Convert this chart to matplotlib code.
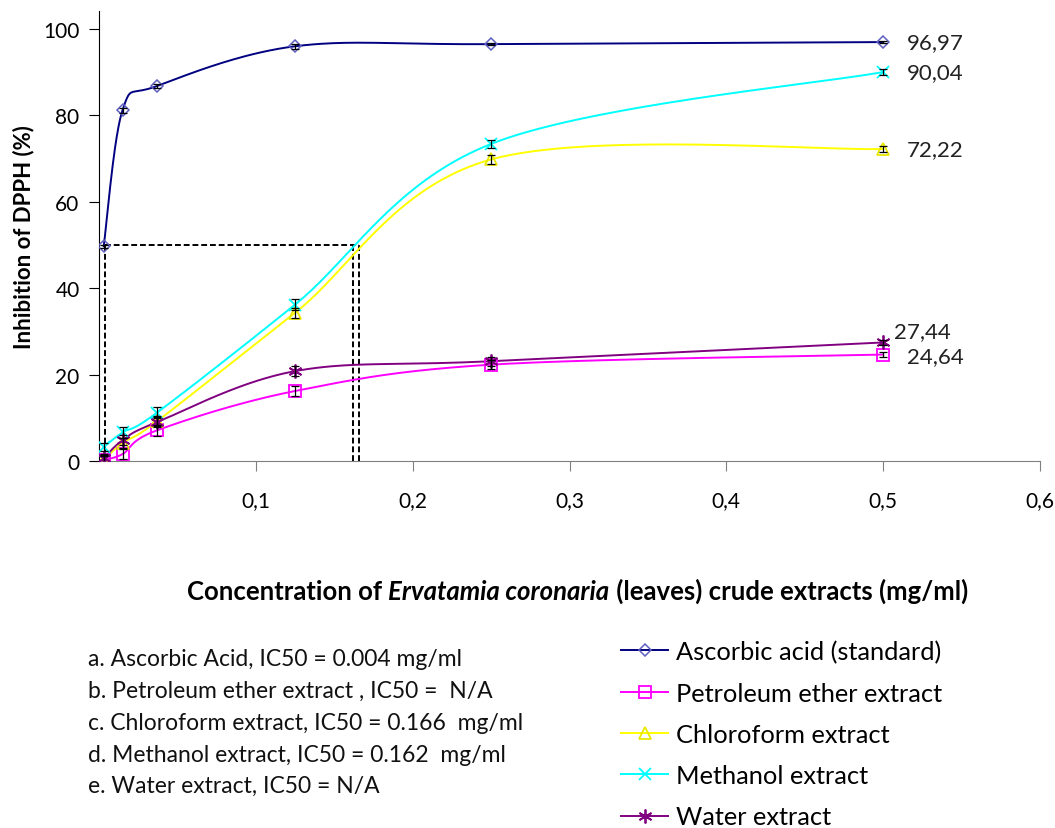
import numpy as np
import matplotlib
matplotlib.use('Agg')
import matplotlib.pyplot as plt
from matplotlib.lines import Line2D

plt.rcParams['font.family'] = ['Lato', 'DejaVu Sans']

# Concentrations (mg/ml)
conc = [0.003, 0.015, 0.037, 0.125, 0.25, 0.5]

# Inhibition of DPPH (%)
ascorbic = [49.7, 81.2, 86.8, 96.0, 96.5, 96.97]
petroleum = [0.3, 1.6, 7.1, 16.2, 22.3, 24.64]
chloroform = [0.2, 4.2, 9.2, 34.3, 69.8, 72.22]
methanol = [3.2, 6.6, 11.2, 36.2, 73.4, 90.04]
water = [0.6, 4.8, 9.0, 20.8, 23.1, 27.44]

err_asc = [0.4, 0.6, 0.5, 0.6, 0.3, 0.3]
err_ext = [1.0, 1.2, 1.2, 1.2, 1.0, 0.6]

ic50_asc = 0.004
ic50_meth = 0.162
ic50_chl = 0.166

end_labels = ['96,97', '90,04', '72,22', '27,44', '24,64']

names = ['Ascorbic acid (standard)', 'Petroleum ether extract',
         'Chloroform extract', 'Methanol extract', 'Water extract']

notes = ['a. Ascorbic Acid, IC50 = 0.004 mg/ml',
         'b. Petroleum ether extract , IC50 =  N/A',
         'c. Chloroform extract, IC50 = 0.166  mg/ml',
         'd. Methanol extract, IC50 = 0.162  mg/ml',
         'e. Water extract, IC50 = N/A']


def smooth(xs, ys, n=40):
    # Excel-like smoothed line (uniform Catmull-Rom as Bezier segments)
    p = np.column_stack([xs, ys]).astype(float)
    ext = np.vstack([p[0], p, p[-1]])
    out = []
    t = np.linspace(0, 1, n)[:, None]
    for i in range(len(p) - 1):
        p0, p1, p2, p3 = ext[i], ext[i + 1], ext[i + 2], ext[i + 3]
        b0 = p1
        b1 = p1 + (p2 - p0) / 6
        b2 = p2 - (p3 - p1) / 6
        b3 = p2
        seg = ((1 - t) ** 3) * b0 + 3 * ((1 - t) ** 2) * t * b1 + 3 * (1 - t) * t ** 2 * b2 + t ** 3 * b3
        out.append(seg)
    out = np.vstack(out)
    return out[:, 0], out[:, 1]


fig = plt.figure(figsize=(10.55, 8.29), dpi=100)
ax = fig.add_axes([99 / 1055, 1 - 462 / 829, (1040 - 99) / 1055, (462 - 12) / 829])

ymax = 100 * (462 - 12) / (462 - 30)
ax.set_xlim(0, 0.6)
ax.set_ylim(0, ymax)

# IC50 guide lines
dash = dict(color='black', linestyle=(0, (3, 1.5)), linewidth=1.4, zorder=2)
ax.plot([ic50_asc, ic50_asc], [0, 50], **dash)
ax.plot([ic50_asc, ic50_chl], [50, 50], **dash)
ax.plot([ic50_meth, ic50_meth], [0, 50], **dash)
ax.plot([ic50_chl, ic50_chl], [0, 50], **dash)

series = [
    (ascorbic, '#000080', dict(marker='D', ms=6, mfc='none', mec='#6060c0', mew=1.1), err_asc),
    (petroleum, '#ff00ff', dict(marker='s', ms=9, mfc='none', mec='#ff00ff', mew=1.3), err_ext),
    (chloroform, '#ffff00', dict(marker='^', ms=9, mfc='none', mec='#e8e800', mew=1.3), err_ext),
    (methanol, '#00ffff', dict(marker='x', ms=9, mec='#00ffff', mew=1.3), err_ext),
    (water, '#800080', dict(marker=(6, 2, 0), ms=10, mec='#800080', mew=1.3), err_ext),
]

handles = []
for (vals, col, mk, err), name in zip(series, names):
    sx, sy = smooth(conc, vals)
    ax.plot(sx, sy, color=col, lw=1.4, zorder=3)
    ax.plot(conc, vals, linestyle='none', zorder=4, **mk)
    ax.errorbar(conc, vals, yerr=err, fmt='none', ecolor='black', elinewidth=0.9,
                capsize=3, capthick=0.9, zorder=5)
    handles.append(Line2D([], [], color=col, lw=1.4, **mk))

# end value labels
label_pos = [(0.515, 96.97), (0.515, 90.04), (0.515, 72.22), (0.507, 30.0), (0.515, 24.2)]
for txt, (lx, ly) in zip(end_labels, label_pos):
    ax.text(lx, ly, txt, fontsize=16, color='#222222', va='center', ha='left')

ax.spines['top'].set_visible(False)
ax.spines['right'].set_visible(False)
ax.spines['left'].set_color('black')
ax.spines['bottom'].set_color('#808080')
ax.set_xticks([0.1, 0.2, 0.3, 0.4, 0.5, 0.6])
ax.set_xticklabels(['0,1', '0,2', '0,3', '0,4', '0,5', '0,6'])
ax.set_yticks([0, 20, 40, 60, 80, 100])
ax.tick_params(axis='x', direction='out', length=7, color='#808080', pad=14, labelsize=15)
ax.tick_params(axis='y', direction='out', length=7, color='black', pad=7, labelsize=15)

ax.set_ylabel('Inhibition of DPPH (%)', fontsize=16, fontweight='bold', labelpad=6)

# x label with italic species name
y_xl = 1 - 592 / 829
t1 = fig.text(187 / 1055, y_xl, 'Concentration of ', fontsize=18.5, fontweight='bold', va='center')
t2 = ax.annotate('Ervatamia coronaria', xy=(1, 0), xycoords=t1, va='bottom', ha='left',
                 fontsize=18.5, fontweight='bold', fontstyle='italic')
t3 = ax.annotate(' (leaves) crude extracts (mg/ml)', xy=(1, 0), xycoords=t2, va='bottom',
                 ha='left', fontsize=18.5, fontweight='bold')

# notes
for i, line in enumerate(notes):
    fig.text(88 / 1055, 1 - (660 + i * 31.7) / 829, line, fontsize=16.5, va='center', color='#111111')

fig.legend(handles, names, loc='upper left', bbox_to_anchor=(621 / 1055, 1 - 641 / 829),
           frameon=False, fontsize=18.3, labelspacing=0.72, handlelength=1.85, handletextpad=0.3,
           borderaxespad=0, borderpad=0)

fig.savefig('out.png', dpi=100)
